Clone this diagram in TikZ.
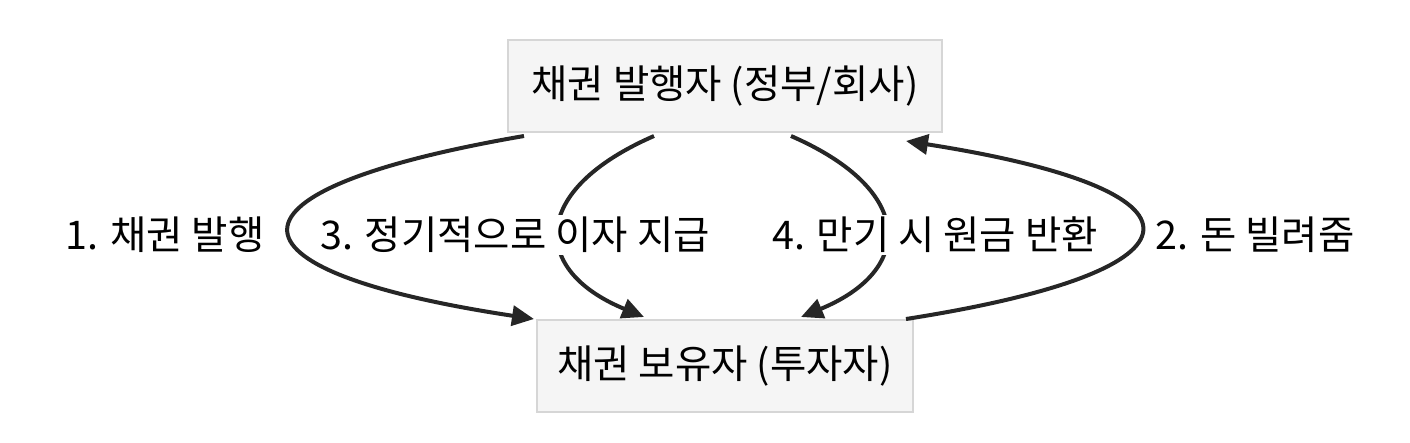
\documentclass[tikz,border=0pt]{standalone}
\usepackage{fontspec}
\setmainfont{Noto Sans CJK KR}
\usetikzlibrary{arrows.meta, positioning, calc}
\definecolor{boxgray}{RGB}{245,245,245}
\definecolor{edgegray}{RGB}{214,214,214}

\begin{document}
\begin{tikzpicture}[x=1pt, y=-1pt,
    party/.style={draw=edgegray, line width=2pt, fill=boxgray, inner sep=0pt,
                  font=\fontsize{39.5}{44}\selectfont},
    flow/.style={line width=4pt, draw=black!85, -{Triangle[length=22pt,width=20pt]}},
    flowlabel/.style={fill=white, inner sep=2pt, font=\fontsize{39.5}{44}\selectfont}]
    \useasboundingbox (0,0) rectangle (1410,442);

    % parties
    \node[party, minimum width=434pt, minimum height=92pt] (issuer) at (725,86) {채권 발행자 (정부/회사)};
    \node[party, minimum width=376pt, minimum height=92pt] (holder) at (725,366) {채권 보유자 (투자자)};

    % flows
    \draw[flow] ([xshift=17pt,yshift=-3pt]issuer.south west) .. controls (210,190) and (210,270) .. ([xshift=-2pt]holder.north west);
    \draw[flow] ([xshift=147pt,yshift=-3pt]issuer.south west) .. controls (530,190) and (530,270) .. ([xshift=108pt,yshift=2pt]holder.north west);
    \draw[flow] ([xshift=-152pt,yshift=-3pt]issuer.south east) .. controls (915,190) and (915,270) .. ([xshift=-113pt,yshift=2pt]holder.north east);
    \draw[flow] ([xshift=-8pt]holder.north east) .. controls (1219,270) and (1219,190) .. ([xshift=-37pt,yshift=-8pt]issuer.south east);

    % labels
    \node[flowlabel] (s1) at (165,235) {1. 채권 발행};
    \node[flowlabel] (s3) at (515,235) {3. 정기적으로 이자 지급};
    \node[flowlabel] (s4) at (935,235) {4. 만기 시 원금 반환};
    \node[flowlabel] (s2) at (1255,235) {2. 돈 빌려줌};
\end{tikzpicture}
\end{document}
